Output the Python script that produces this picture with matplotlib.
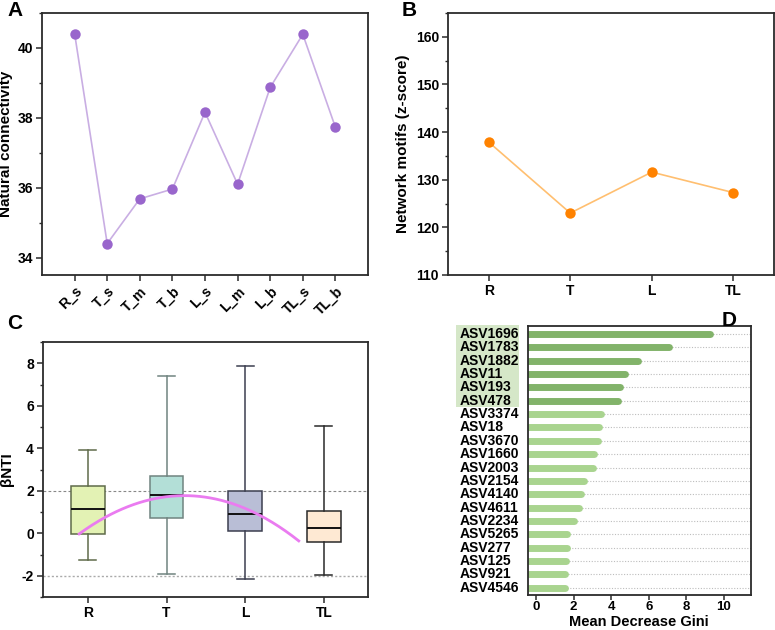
import matplotlib
matplotlib.use("Agg")
import matplotlib.pyplot as plt
import matplotlib.transforms as mtransforms
import numpy as np
from matplotlib.patches import Rectangle
from matplotlib.ticker import MultipleLocator

plt.rcParams['font.family'] = ['Liberation Sans', 'DejaVu Sans']
plt.rcParams['font.weight'] = 'bold'
plt.rcParams['axes.labelweight'] = 'bold'
plt.rcParams['axes.unicode_minus'] = False

# ---------------- data ----------------
a_cats = ["R_s", "T_s", "T_m", "T_b", "L_s", "L_m", "L_b", "TL_s", "TL_b"]
a_vals = [40.41, 34.40, 35.68, 35.96, 38.16, 36.10, 38.87, 40.39, 37.73]

b_cats = ["R", "T", "L", "TL"]
b_vals = [137.9, 123.0, 131.6, 127.3]

c_cats = ["R", "T", "L", "TL"]
c_whislo = [-1.25, -1.91, -2.16, -1.98]
c_q1 = [-0.04, 0.73, 0.11, -0.42]
c_med = [1.16, 1.80, 0.92, 0.24]
c_q3 = [2.22, 2.69, 1.97, 1.03]
c_whishi = [3.91, 7.38, 7.86, 5.05]
c_fill = ["#e3f2b4", "#b3dfd7", "#b9bed6", "#fee9d3"]
c_edge = ["#5f6b4a", "#708480", "#3c3f4f", "#2a2a2a"]
# fitted curve points (x position, βNTI)
fit_x = [-0.11, 1.25, 2.68]
fit_y = [-0.03, 1.77, -0.36]

d_labels = ["ASV1696", "ASV1783", "ASV1882", "ASV11", "ASV193", "ASV478",
            "ASV3374", "ASV18", "ASV3670", "ASV1660", "ASV2003", "ASV2154",
            "ASV4140", "ASV4611", "ASV2234", "ASV5265", "ASV277", "ASV125",
            "ASV921", "ASV4546"]
d_vals = [9.43, 7.25, 5.60, 4.90, 4.62, 4.53, 3.63, 3.49, 3.47, 3.25,
          3.17, 2.72, 2.57, 2.43, 2.19, 1.80, 1.78, 1.76, 1.69, 1.68]
d_n_highlight = 6

# ---------------- figure ----------------
W, H = 775, 630
fig = plt.figure(figsize=(W / 100, H / 100), dpi=100)


def px_axes(l, t, r, b):
    return fig.add_axes([l / W, 1 - b / H, (r - l) / W, (b - t) / H])


def style(ax, size=10):
    for s in ax.spines.values():
        s.set_linewidth(1.3)
        s.set_color("#2b2b2b")
    ax.tick_params(which="major", direction="out", length=4, width=1.1,
                   color="#2b2b2b", labelsize=size, pad=2.5)
    ax.tick_params(which="minor", direction="out", length=2.5, width=1.0,
                   color="#2b2b2b")
    for lab in ax.get_xticklabels() + ax.get_yticklabels():
        lab.set_fontweight("bold")


# Panel A
axA = px_axes(42, 13, 368, 275)
xa = np.arange(len(a_cats))
axA.plot(xa, a_vals, color="#c9aee3", lw=1.2, zorder=2)
axA.plot(xa, a_vals, 'o', color="#9966cc", ms=7.5, mec="none", zorder=3)
axA.set_xlim(-1, 9)
axA.set_ylim(33.5, 41)
axA.set_yticks([34, 36, 38, 40])
axA.yaxis.set_minor_locator(MultipleLocator(1))
axA.set_xticks(xa)
axA.set_xticklabels(a_cats, rotation=45, ha="right", va="top",
                    rotation_mode="anchor")
axA.set_ylabel("Natural connectivity", fontsize=11, fontweight="bold",
               labelpad=3)
style(axA)

# Panel B
axB = px_axes(448, 13, 774, 275)
xb = np.arange(len(b_cats))
axB.plot(xb, b_vals, color="#ffbf70", lw=1.2, zorder=2)
axB.plot(xb, b_vals, 'o', color="#ff8200", ms=7.5, mec="none", zorder=3)
axB.set_xlim(-0.5, 3.5)
axB.set_ylim(110, 165)
axB.set_yticks([110, 120, 130, 140, 150, 160])
axB.yaxis.set_minor_locator(MultipleLocator(5))
axB.set_xticks(xb)
axB.set_xticklabels(b_cats)
axB.set_ylabel("Network motifs (z-score)", fontsize=11, fontweight="bold",
               labelpad=4)
style(axB)

# Panel C
axC = px_axes(43, 342, 368, 597)
stats = []
for i in range(len(c_cats)):
    stats.append(dict(whislo=c_whislo[i], q1=c_q1[i], med=c_med[i],
                      q3=c_q3[i], whishi=c_whishi[i], fliers=[],
                      label=c_cats[i]))
bp = axC.bxp(stats, positions=np.arange(len(c_cats)), widths=0.43,
             patch_artist=True, showfliers=False)
for i in range(len(c_cats)):
    bp['boxes'][i].set_facecolor(c_fill[i])
    bp['boxes'][i].set_edgecolor(c_edge[i])
    bp['boxes'][i].set_linewidth(1.1)
    bp['medians'][i].set_color("#111111")
    bp['medians'][i].set_linewidth(1.4)
    for w in bp['whiskers'][2 * i:2 * i + 2]:
        w.set_color(c_edge[i]); w.set_linewidth(1.1)
    for c in bp['caps'][2 * i:2 * i + 2]:
        c.set_color(c_edge[i]); c.set_linewidth(1.1)
axC.axhline(2, color="#888888", ls=(0, (2.5, 2)), lw=0.8, zorder=0)
axC.axhline(-2, color="#aaaaaa", ls=(0, (1.5, 1.5)), lw=1.0, zorder=0)
coef = np.polyfit(fit_x, fit_y, 2)
xx = np.linspace(fit_x[0], fit_x[-1], 200)
axC.plot(xx, np.polyval(coef, xx), color="#ea7bf0", lw=2.0, zorder=5)
axC.set_xlim(-0.57, 3.56)
axC.set_ylim(-3, 9)
axC.set_yticks([-2, 0, 2, 4, 6, 8])
axC.yaxis.set_minor_locator(MultipleLocator(1))
axC.set_xticks(np.arange(len(c_cats)))
axC.set_xticklabels(c_cats)
axC.set_ylabel("βNTI", fontsize=11, fontweight="bold", labelpad=6)
style(axC)

# Panel D
axD = px_axes(528, 326, 751, 595)
axD.set_zorder(2)
yd = np.arange(len(d_labels))
x_left = -0.42
for i, v in enumerate(d_vals):
    axD.plot([v, 11.44], [i, i], color="#bdbdbd", ls=(0, (1, 1.5)), lw=0.8,
             zorder=1)
    col = "#82b36a" if i < d_n_highlight else "#a9d48f"
    axD.plot([-1, v - 0.15], [i, i], color=col, lw=5.0,
             solid_capstyle="round", zorder=2)
axD.set_xlim(x_left, 11.44)
axD.set_ylim(19.55, -0.6)
axD.set_xticks([0, 2, 4, 6, 8, 10])
axD.set_yticks(yd)
axD.set_yticklabels([])
style(axD)
axD.tick_params(axis="y", length=0)
axD.tick_params(axis="x", labelsize=9.5, pad=1, length=3.5)
trans = mtransforms.blended_transform_factory(fig.transFigure, axD.transData)
for i, lab in enumerate(d_labels):
    fig.text(460 / W, i, lab, transform=trans, ha="left", va="center",
             fontsize=10, fontweight="bold")
fig.text(639 / W, 1 - 629 / H, "Mean Decrease Gini", ha="center",
         va="bottom", fontsize=10.5, fontweight="bold")
# highlight box behind first labels
fig.patches.append(Rectangle((456 / W, 1 - 407 / H), (519 - 456) / W,
                             (407 - 325) / H, transform=fig.transFigure,
                             facecolor="#d5e7c8", edgecolor="none",
                             zorder=-1))

# panel letters
for txt, x, y in [("A", 7, 1), ("B", 402, 1), ("C", 7, 314), ("D", 722, 311)]:
    fig.text(x / W, 1 - y / H, txt, fontsize=15, fontweight="bold",
             ha="left", va="top")

fig.savefig("out.png", dpi=100)
